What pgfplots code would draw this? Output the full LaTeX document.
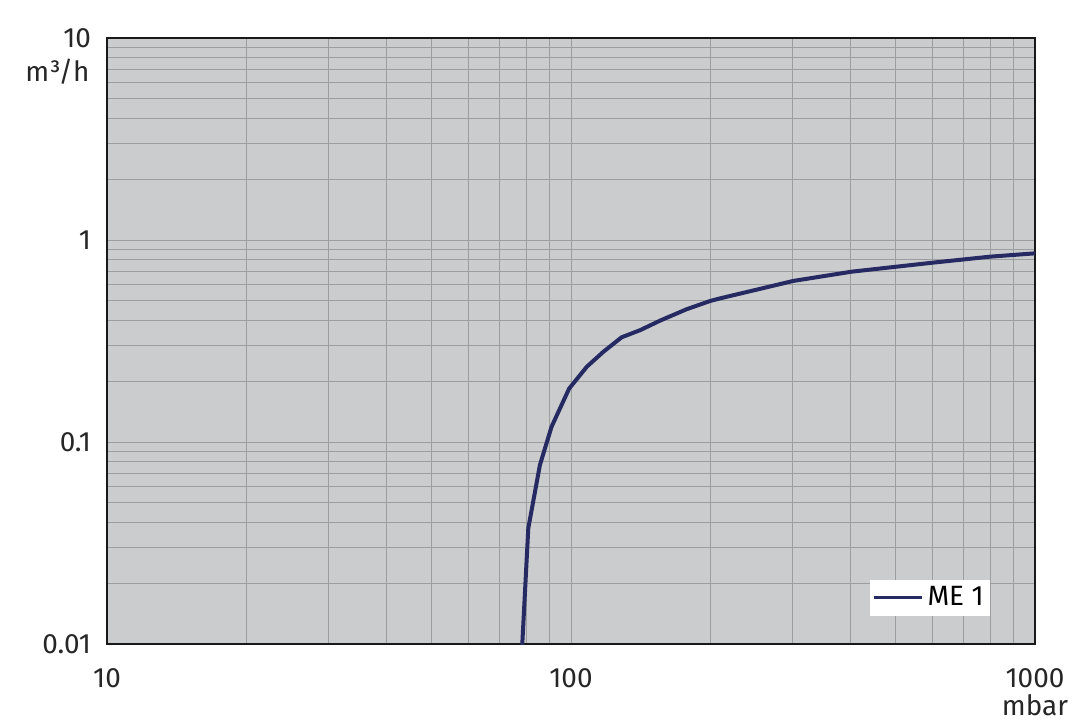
\documentclass[border=0pt]{standalone}
\usepackage{pgfplots}
\pgfplotsset{compat=1.18}
\usepackage{fontspec}
\setmainfont{Fira Sans}
\definecolor{bgg}{HTML}{CBCCCE}
\definecolor{gridg}{HTML}{9C9D9F}
\definecolor{navy}{HTML}{262A63}
\begin{document}
\begin{tikzpicture}[x=1bp,y=1bp]
\begin{axis}[
  scale only axis,
  width=464bp, height=303bp,
  xmode=log, ymode=log,
  xmin=10, xmax=1000, ymin=0.01, ymax=10,
  axis background/.style={fill=bgg},
  axis line style={black!90, line width=1.2bp},
  grid=both,
  major grid style={gridg, line width=0.5bp},
  minor grid style={gridg, line width=0.4bp},
  xtick={10,100,1000}, xticklabels={10,100,1000},
  ytick={0.01,0.1,1,10}, yticklabels={0.01,0.1,1,10},
  major tick length=0pt, minor tick length=0pt,
  tick label style={font=\fontsize{14}{16}\selectfont, text=black!85},
  /pgf/number format/assume math mode=true,
  yticklabel style={anchor=east, xshift=-4.5bp},
  xticklabel style={anchor=north, yshift=-9bp},
  legend style={draw=none, fill=white, font=\fontsize{14}{16}\selectfont,
    at={(0.9515,0.046)}, anchor=south east, inner xsep=1bp, inner ysep=1.5bp,
    legend cell align=left},
  legend image code/.code={\draw[#1, line width=1.8bp] (0bp,0bp) -- (24bp,0bp);},
  clip=true,
]
\addplot[navy, line width=2bp] coordinates {
(78.5,0.0098)
(80.9,0.0374)
(85.7,0.0769)
(90.8,0.119)
(99.1,0.184)
(108.2,0.236)
(117.5,0.280)
(128.6,0.330)
(141,0.358)
(155.6,0.399)
(177.4,0.454)
(199.5,0.499)
(209.5,0.514)
(301.2,0.627)
(402.7,0.697)
(604,0.773)
(800,0.827)
(1000,0.859)
};
\addlegendentry{ME 1}
\end{axis}
\node[anchor=east, font=\fontsize{14}{16}\selectfont, text=black!85] at ([xshift=-5.2bp,yshift=-17bp]current axis.north west) {m³/h};
\node[anchor=center, inner sep=0pt, font=\fontsize{14}{16}\selectfont, text=black!85] at ([xshift=0bp,yshift=-30.5bp]current axis.south east) {mbar};
\pgfresetboundingbox
\path[use as bounding box] ([xshift=-53.5bp,yshift=-38.5bp]current axis.south west) rectangle ([xshift=22.5bp,yshift=19bp]current axis.north east);
\end{tikzpicture}
\end{document}
